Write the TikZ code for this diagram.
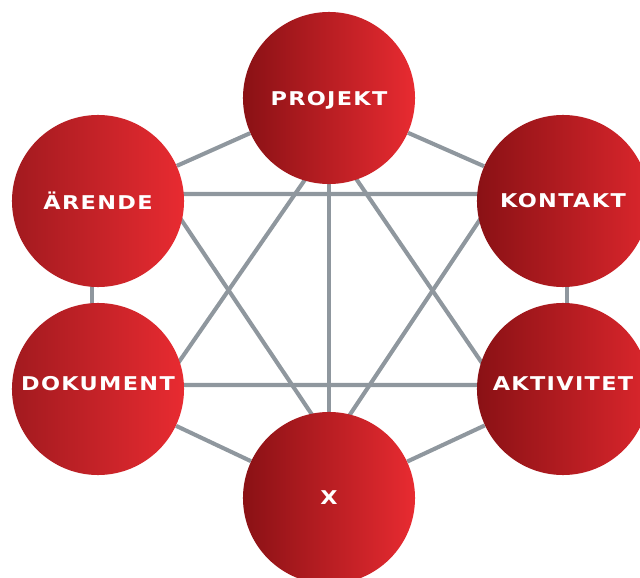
\documentclass[tikz,border=0pt]{standalone}
\usepackage{fontspec}
\setmainfont{DejaVu Sans}[FakeStretch=1.18, LetterSpace=7]
\usetikzlibrary{backgrounds}

\definecolor{linjegra}{RGB}{143,151,158}
\definecolor{rodmork}{RGB}{138,17,21}
\definecolor{rodlys}{RGB}{232,43,49}
\definecolor{rodmid}{RGB}{162,26,31}
\definecolor{rodhoyre}{RGB}{218,38,44}

\begin{document}
\begin{tikzpicture}[x=0.025cm, y=-0.025cm,
    linje/.style={draw=linjegra, line width=2.9pt},
    boble/.style={circle, minimum size=4.3cm, inner sep=0pt, text=white,
      font=\bfseries\fontsize{13.5}{15}\selectfont,
      left color=rodmork, right color=rodlys},
    opp/.style={text depth=#1},
    ned/.style={text height=#1}]
  \useasboundingbox (0,0) rectangle (640,578);

  % Sirkler
  \node[boble, ned=14pt] (prosjekt) at (329,98) {PROJEKT};
  \node[boble, left color=rodmid] (arende) at (98,201) {ÄRENDE};
  \node[boble, right color=rodhoyre] (kontakt) at (563,201) {KONTAKT};
  \node[boble, left color=rodmid, opp=8pt] (dokument) at (98,389) {DOKUMENT};
  \node[boble, right color=rodhoyre, opp=8pt] (aktivitet) at (563,389) {AKTIVITET};
  \node[boble] (x) at (329,498) {X};

  % Hjorner i stjerna
  \coordinate (s1) at ([shift={(2,44)}]prosjekt.center);
  \coordinate (s2) at ([shift={(65,-4)}]dokument.center);
  \coordinate (s3) at ([shift={(-66,-4)}]aktivitet.center);
  \coordinate (t1) at ([shift={(66,-7)}]arende.center);
  \coordinate (t2) at ([shift={(-66,-7)}]kontakt.center);
  \coordinate (t3) at ([shift={(2,-55)}]x.center);

  % Linjer bak sirklene
  \begin{pgfonlayer}{background}
    \draw[linje] (s1) -- (s2) -- (s3) -- cycle;
    \draw[linje] (t1) -- (t2) -- (t3) -- cycle;
    \draw[linje] (prosjekt) -- (arende);
    \draw[linje] (prosjekt) -- (kontakt);
    \draw[linje] ([xshift=-0.15cm]arende.center) -- ([xshift=-0.15cm]dokument.center);
    \draw[linje] ([xshift=0.1cm]kontakt.center) -- ([xshift=0.1cm]aktivitet.center);
    \draw[linje] (dokument) -- (x);
    \draw[linje] (aktivitet) -- (x);
    \draw[linje] (prosjekt) -- (x);
  \end{pgfonlayer}
\end{tikzpicture}
\end{document}
